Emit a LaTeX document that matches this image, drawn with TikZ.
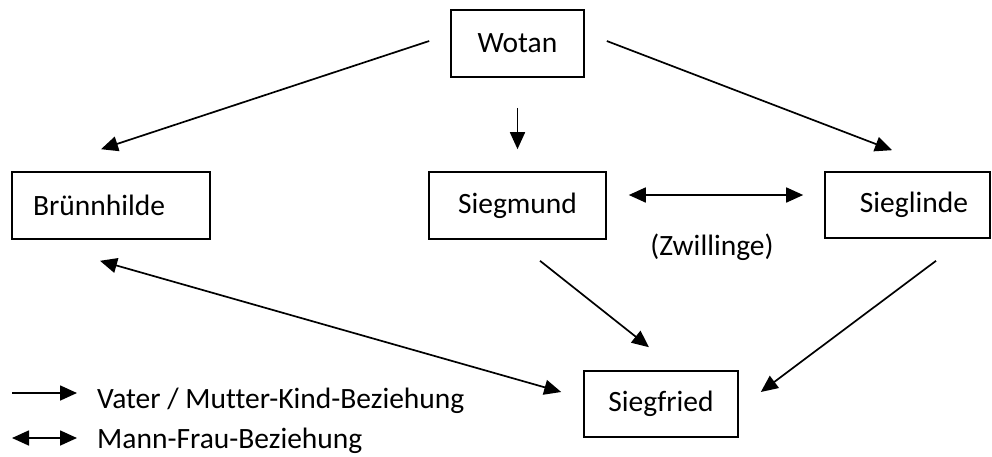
\documentclass[tikz,border=0pt]{standalone}
\usepackage{fontspec}
\setmainfont{Carlito}[Ligatures=CommonOff]
\usetikzlibrary{arrows.meta,calc}
\tikzset{
  person/.style={draw, line width=1.6pt, rectangle, inner sep=0pt, minimum height=67pt, font=\fontsize{29.5}{35}\selectfont},
  tip/.style={Triangle[length=17pt,width=15pt]},
  rel/.style={line width=1.7pt, -{Triangle[length=17pt,width=15pt]}},
  pair/.style={line width=1.7pt, {Triangle[length=17pt,width=15pt]}-{Triangle[length=17pt,width=15pt]}},
  legend/.style={anchor=base west, inner sep=0pt, font=\fontsize{29.5}{35}\selectfont}
}
\begin{document}
\begin{tikzpicture}[x=1pt,y=-1pt]
\useasboundingbox (0,0) rectangle (992,456);
\node[person, minimum width=133pt] (wotan) at (517.5,43.5) {Wotan};
\node[person, text width=156pt, inner xsep=21pt, align=left] (bruenn) at (111,205.5) {Brünnhilde};
\node[person, minimum width=177pt] (siegmund) at (517.5,205.5) {Siegmund};
\node[person, text width=121pt, inner xsep=22pt, align=right, minimum height=66pt] (sieglinde) at (907.5,205) {Sieglinde};
\node[person, minimum width=154pt, minimum height=66pt] (siegfried) at (661,404) {Siegfried};
\node[font=\fontsize{29.5}{35}\selectfont, inner sep=0pt] (zw) at (712,247) {(Zwillinge)};

\draw[rel] ($(wotan.west)+(-21,-2.5)$) -- ($(bruenn.north)+(-10,-22)$);
\draw[rel] ($(wotan.south)+(0,30)$) -- ($(siegmund.north)+(0,-22)$);
\draw[rel] ($(wotan.east)+(22,-2.5)$) -- ($(sieglinde.north)+(-15.5,-21)$);
\draw[pair] ($(siegmund.east)+(22,-10.5)$) -- ($(sieglinde.west)+(-21,-10)$);
\draw[pair] ($(bruenn.south)+(-11,21)$) -- ($(siegfried.west)+(-22,-12)$);
\draw[rel] ($(siegmund.south)+(22.5,21)$) -- ($(siegfried.north)+(-12,-23)$);
\draw[rel] ($(sieglinde.south)+(28.5,22)$) -- ($(siegfried.east)+(22,-12)$);

\coordinate (l1a) at (12,393);
\coordinate (l1b) at (77,393);
\coordinate (l2a) at (12,438);
\coordinate (l2b) at (77,438);
\draw[rel] (l1a) -- (l1b);
\draw[pair] (l2a) -- (l2b);
\node[legend] (leg1) at (97,408) {Vater / Mutter-Kind-Beziehung};
\node[legend] (leg2) at (97,448) {Mann-Frau-Beziehung};
\end{tikzpicture}
\end{document}
